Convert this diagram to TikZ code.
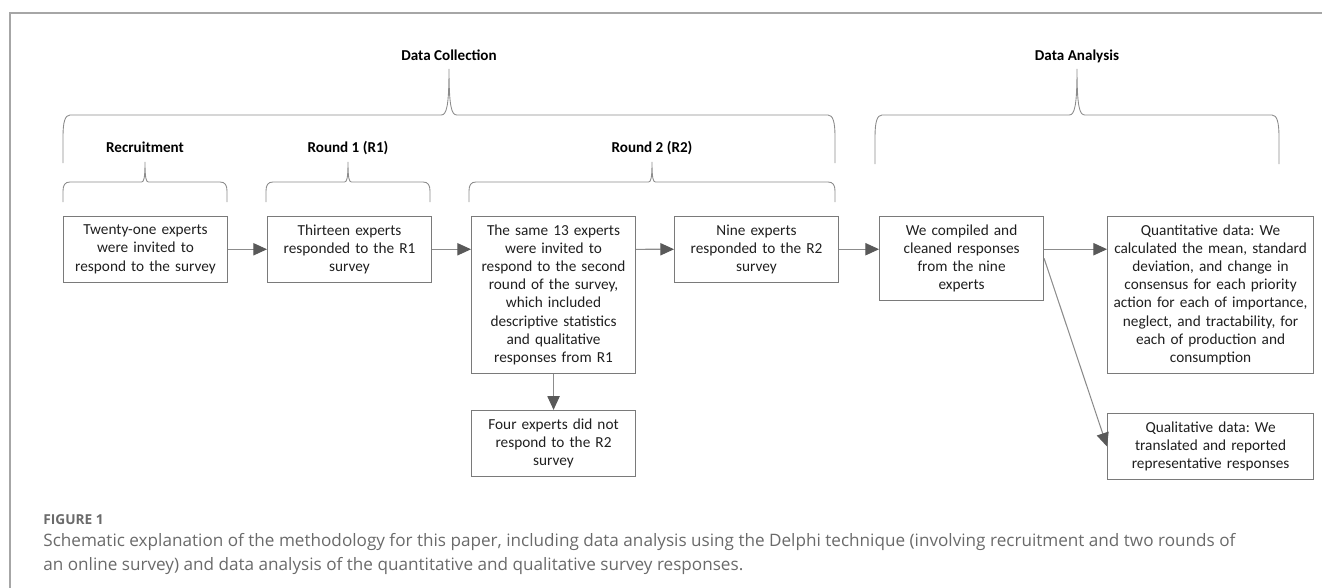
\documentclass[tikz,border=0pt]{standalone}
\usepackage{fontspec}
\setmainfont{Carlito}
\newfontfamily\captionfont{Open Sans}
\usetikzlibrary{arrows.meta,positioning}
\frenchspacing
\definecolor{framegray}{HTML}{A6A6A6}
\definecolor{boxgray}{HTML}{7A7A7A}
\definecolor{linegray}{HTML}{8C8C8C}
\definecolor{headgray}{HTML}{595959}
\definecolor{capgray}{HTML}{6A6A6A}

% curly bracket in the Office style: #1 left x, #2 right x, #3 bar y,
% #4 leg length, #5 cusp height, #6 name of the cusp tip
\newcommand\officebrace[6]{%
  \pgfmathsetmacro\bmid{(#1+#2)/2}%
  \pgfmathsetmacro\bspr{0.17*#5}%
  \draw[brace] (#1,#3+#4) -- (#1,#3+0.45*#4) .. controls (#1,#3+0.15*#4) and (#1+2,#3) .. (#1+7,#3)
    -- (\bmid-\bspr,#3) .. controls (\bmid-0.3*\bspr,#3) and (\bmid,#3-0.2*#5) .. (\bmid,#3-#5) coordinate (#6)
    .. controls (\bmid,#3-0.2*#5) and (\bmid+0.3*\bspr,#3) .. (\bmid+\bspr,#3)
    -- (#2-7,#3) .. controls (#2-2,#3) and (#2,#3+0.15*#4) .. (#2,#3+0.45*#4) -- (#2,#3+#4);
}

\begin{document}
\begin{tikzpicture}[x=0.02cm, y=-0.02cm, font=\fontsize{8.7}{10.35}\selectfont,
    box/.style={draw=boxgray, line width=0.6pt, text=black!88, align=center, inner xsep=0pt, inner ysep=4.8pt, text width=3.28cm},
    wide/.style={box, text width=4.12cm},
    head/.style={font=\fontsize{8.6}{10.3}\selectfont\bfseries, inner sep=0pt},
    brace/.style={draw=linegray, line width=0.5pt},
    ar/.style={draw=linegray, line width=0.6pt, -{Triangle[length=7.8pt, width=7pt, color=headgray]}}]
  \useasboundingbox (0,0) rectangle (1322,588);
  \draw[framegray, line width=0.7pt] (1322,13) -- (10,13) -- (10,588);

  \node[box, anchor=north west] (invite) at (63,216) {Twenty-one experts\\were invited to\\respond to the survey};
  \node[box, right=7.8mm of invite] (rone) {Thirteen experts\\responded to the R1\\survey};
  \node[box, below right=0mm and 7.8mm of rone.north east] (same) {The same 13 experts\\were invited to\\respond to the second\\round of the survey,\\which included\\descriptive statistics\\and qualitative\\responses from R1};
  \node[box, below=7.2mm of same] (four) {Four experts did not\\respond to the R2\\survey};
  \node[box, below right=0mm and 7.6mm of same.north east] (nine) {Nine experts\\responded to the R2\\survey};
  \node[box, below right=0mm and 8mm of nine.north east] (clean) {We compiled and\\cleaned responses\\from the nine\\experts};
  \node[wide, below right=0mm and 12.6mm of clean.north east] (quant) {Quantitative data: We\\calculated the mean, standard\\deviation, and change in\\consensus for each priority\\action for each of importance,\\neglect, and tractability, for\\each of production and\\consumption};
  \node[wide, below=7.8mm of quant] (qual) {Qualitative data: We\\translated and reported\\representative responses};

  % brackets and their headings
  \officebrace{63}{227}{182}{20}{20}{trec}
  \officebrace{266}{430}{182}{20}{20}{tone}
  \officebrace{469}{835}{182}{20}{20}{ttwo}
  \officebrace{63}{835}{115}{48}{46}{tcoll}
  \officebrace{875}{1279}{115}{49}{46}{tana}
  \node[head, above=2mm of trec, anchor=base] (hrec) {Recruitment};
  \node[head, above=2mm of tone, anchor=base] (hone) {Round 1 (R1)};
  \node[head, above=2mm of ttwo, anchor=base] (htwo) {Round 2 (R2)};
  \node[head, above=1.8mm of tcoll, anchor=base] (hcoll) {Data Collection};
  \node[head, above=1.8mm of tana, anchor=base] (hana) {Data Analysis};

  \draw[ar] (invite) -- (rone);
  \draw[ar] (rone) -- (rone -| same.west);
  \draw[ar] (rone -| same.east) -- (nine);
  \draw[ar] (same) -- (four);
  \draw[ar] (nine) -- (nine -| clean.west);
  \draw[ar] (nine -| clean.east) -- (nine -| quant.west);
  \draw[ar] (clean.east) -- (qual.west);

  \node[anchor=base west, inner sep=0pt, text=capgray, font=\captionfont\bfseries\fontsize{7.8}{9}\selectfont] (fig) at (43,524) {FIGURE 1};
  \node[anchor=north west, inner sep=0pt, align=left, text=capgray, font=\captionfont\fontsize{9.75}{13.6}\selectfont] (cap) at (43,533) {Schematic explanation of the methodology for this paper, including data analysis using the Delphi technique (involving recruitment and two rounds of\\an online survey) and data analysis of the quantitative and qualitative survey responses.};
\end{tikzpicture}
\end{document}
